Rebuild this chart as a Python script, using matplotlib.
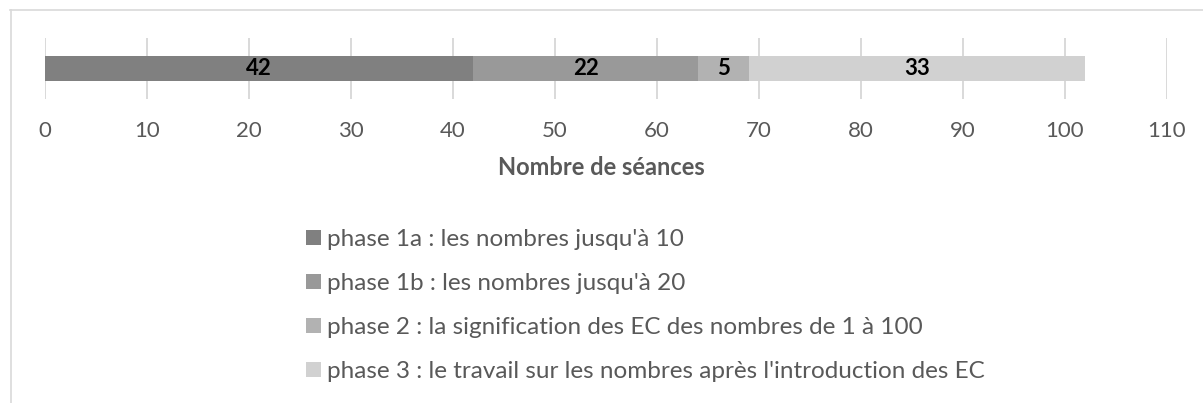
import matplotlib
matplotlib.use("Agg")
import matplotlib.pyplot as plt
from matplotlib.patches import Patch
from matplotlib.lines import Line2D

plt.rcParams['font.family'] = ['Lato', 'DejaVu Sans']

phases = [
    "phase 1a : les nombres jusqu'à 10",
    "phase 1b : les nombres jusqu'à 20",
    "phase 2 : la signification des EC des nombres de 1 à 100",
    "phase 3 : le travail sur les nombres après l'introduction des EC",
]
values = [42, 22, 5, 33]
colors = ["#808080", "#999999", "#b2b2b2", "#d1d1d1"]
xticks = list(range(0, 111, 10))
axis_title = "Nombre de séances"

W, H = 1203, 403
fig = plt.figure(figsize=(W / 100, H / 100), dpi=100)

# chart border (only top and left visible)
fig.add_artist(Line2D([10 / W, 1], [1 - 9.5 / H, 1 - 9.5 / H], color="#d9d9d9", lw=1.2))
fig.add_artist(Line2D([10.5 / W, 10.5 / W], [0, 1 - 9.5 / H], color="#d9d9d9", lw=1.2))

ax = fig.add_axes([45 / W, 1 - 99 / H, (1167 - 45) / W, 61 / H])
left = 0
for v, c, lab in zip(values, colors, phases):
    ax.barh(0, v, left=left, height=0.41, color=c, label=lab, zorder=2)
    ax.text(left + v / 2, 0, str(v), ha="center", va="center",
            fontsize=16, fontweight="bold", color="black", zorder=3)
    left += v

ax.set_xlim(0, 110)
ax.set_ylim(-0.5, 0.5)
ax.set_xticks(xticks)
ax.set_yticks([])
ax.grid(axis="x", color="#d9d9d9", lw=1.4, zorder=1)
ax.tick_params(axis="x", length=0, pad=15.5, labelsize=16, labelcolor="#595959")
for s in ax.spines.values():
    s.set_visible(False)

fig.text(601 / W, 1 - 168 / H, axis_title, ha="center", va="center",
         fontsize=17, fontweight="bold", color="#595959")

handles = [Patch(facecolor=c, edgecolor="none") for c in colors]
fig.legend(handles, phases, loc="upper left", bbox_to_anchor=(306 / W, 1 - 229 / H),
           frameon=False, fontsize=17.5, labelcolor="#595959",
           handlelength=0.6, handleheight=0.6, handletextpad=0.25,
           labelspacing=0.95, borderpad=0, borderaxespad=0)

fig.savefig("out.png", dpi=100)
